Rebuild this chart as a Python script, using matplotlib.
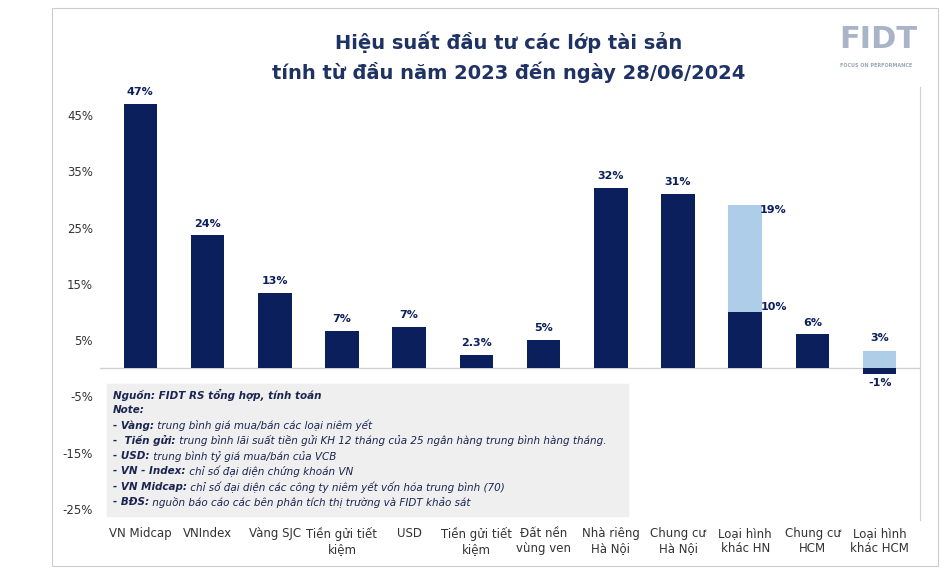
import matplotlib
matplotlib.use("Agg")
import matplotlib.pyplot as plt
from matplotlib.patches import Rectangle

categories = ["VN Midcap", "VNIndex", "Vàng SJC", "Tiền gửi tiết\nkiệm", "USD", "Tiền gửi tiết\nkiệm",
              "Đất nền\nvùng ven", "Nhà riêng\nHà Nội", "Chung cư\nHà Nội", "Loại hình\nkhác HN",
              "Chung cư\nHCM", "Loại hình\nkhác HCM"]
dark_values = [47, 23.6, 13.4, 6.6, 7.4, 2.3, 5.0, 32, 31, 10, 6, -1]
dark_labels = ["47%", "24%", "13%", "7%", "7%", "2.3%", "5%", "32%", "31%", "10%", "6%", "-1%"]
light_values = [0, 0, 0, 0, 0, 0, 0, 0, 0, 19, 0, 3]
light_labels = ["", "", "", "", "", "", "", "", "", "19%", "", "3%"]
yticks = [-25, -15, -5, 5, 15, 25, 35, 45]

DARK = "#0b1f5c"
LIGHT = "#aecde9"

fig = plt.figure(figsize=(9.51, 5.74), dpi=100)
fig.add_artist(Rectangle((52/951, 8/574), (938-52)/951, (566-8)/574, transform=fig.transFigure,
                         fill=False, ec="#cccccc", lw=0.8))
ax = fig.add_axes([100/951, 1-520/574, (920-100)/951, (520-87)/574])
x = list(range(len(categories)))
w = 0.5
ax.bar(x, dark_values, width=w, color=DARK, zorder=3)
light_bottom = [max(d, 0) if l > 0 else 0 for d, l in zip(dark_values, light_values)]
ax.bar(x, light_values, width=w, bottom=light_bottom, color=LIGHT, zorder=3)

for i, (v, lab) in enumerate(zip(dark_values, dark_labels)):
    if light_values[i] > 0 and v > 0:
        ax.text(i + 0.42, v, lab, ha="center", va="bottom", fontsize=8, fontweight="bold", color=DARK)
    elif v < 0:
        ax.text(i, v - 0.8, lab, ha="center", va="top", fontsize=8, fontweight="bold", color=DARK)
    else:
        ax.text(i, v + 1.2, lab, ha="center", va="bottom", fontsize=8, fontweight="bold", color=DARK)
for i, lab in enumerate(light_labels):
    if lab:
        top = light_bottom[i] + light_values[i]
        if dark_values[i] > 0:
            ax.text(i + 0.42, top - 0.8, lab, ha="center", va="center", fontsize=8, fontweight="bold", color=DARK)
        else:
            ax.text(i, top + 1.5, lab, ha="center", va="bottom", fontsize=8, fontweight="bold", color=DARK)

ax.axhline(0, color="#d0d0d0", lw=1, zorder=2)
ax.set_ylim(-27, 50)
ax.set_xlim(-0.6, 11.6)
ax.set_yticks(yticks)
ax.set_yticklabels([f"{t}%" for t in yticks], fontsize=8.5, color="#333333")
ax.set_xticks(x)
ax.set_xticklabels(categories, fontsize=8.5, color="#333333")
ax.tick_params(length=0, pad=5)
for s in ["top", "left", "bottom"]:
    ax.spines[s].set_visible(False)
ax.spines["right"].set_color("#d0d0d0")

fig.text(0.535, 1-42/574, "Hiệu suất đầu tư các lớp tài sản", ha="center", va="center",
         fontsize=14, fontweight="bold", color="#1f3264")
fig.text(0.535, 1-72/574, "tính từ đầu năm 2023 đến ngày 28/06/2024", ha="center", va="center",
         fontsize=14, fontweight="bold", color="#1f3264")
fig.text(878/951, 1-40/574, "FIDT", ha="center", va="center", fontsize=22, fontweight="bold", color="#a9b4c8")
fig.text(876/951, 1-66/574, "FOCUS ON PERFORMANCE", ha="center", va="center", fontsize=3.5,
         fontweight="bold", color="#9aa4b8")

# note box
fig.add_artist(Rectangle((107/951, 1-516/574), (628-107)/951, (516-384)/574, transform=fig.transFigure,
                         color="#efefef", zorder=4))
lines = [("Nguồn: FIDT RS tổng hợp, tính toán", ""), ("Note:", ""),
         ("- Vàng:", " trung bình giá mua/bán các loại niêm yết"),
         ("-  Tiền gửi:", " trung bình lãi suất tiền gửi KH 12 tháng của 25 ngân hàng trung bình hàng tháng."),
         ("- USD:", " trung bình tỷ giá mua/bán của VCB"),
         ("- VN - Index:", " chỉ số đại diện chứng khoán VN"),
         ("- VN Midcap:", " chỉ số đại diện các công ty niêm yết vốn hóa trung bình (70)"),
         ("- BĐS:", " nguồn báo cáo các bên phân tích thị trường và FIDT khảo sát")]
y0 = 395
for j, (b, r) in enumerate(lines):
    yy = 1 - (y0 + j * 15.3) / 574
    t = fig.text(113/951, yy, b, ha="left", va="center", fontsize=7.5, fontweight="bold",
                 style="italic", color="#1a2550", zorder=5)
    if r:
        fig.canvas.draw()
        bb = t.get_window_extent()
        fig.text(bb.x1 / 951, yy, r, ha="left", va="center", fontsize=7.5, style="italic",
                 color="#1a2550", zorder=5)

fig.savefig("out.png", dpi=100)
